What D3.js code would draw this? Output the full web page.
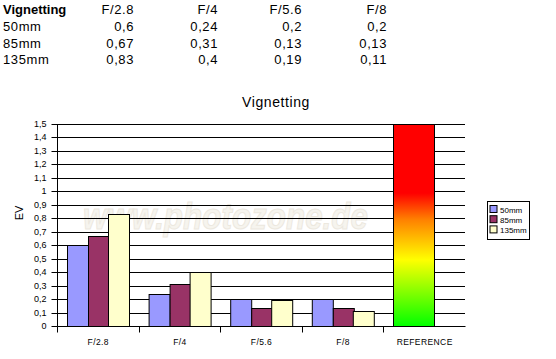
<!DOCTYPE html>
<html lang="en">
<head>
    <meta charset="UTF-8">
    <title>Vignetting</title>
    <script src="https://d3js.org/d3.v7.min.js"></script>
    <style>
        body{margin: 0; background: #fff;}
        text{font-family: 'Liberation Sans', Arial, sans-serif; fill: #000;}
    </style>
</head>
<body>
    <div id="plot"></div>

    <script>
        function translate(x, y){
            return 'translate(' + x + ', ' + y + ')';
        }

        let categories = ['F/2.8', 'F/4', 'F/5.6', 'F/8'];
        let series = ['50mm', '85mm', '135mm'];
        let values50 = [0.6, 0.24, 0.2, 0.2];
        let values85 = [0.67, 0.31, 0.13, 0.13];
        let values135 = [0.83, 0.4, 0.19, 0.11];
        let referenceLabel = 'REFERENCE';
        let referenceValue = 1.5;
        let yTicks = d3.range(0, 16).map(d => d / 10);

        let rows = [values50, values85, values135];
        let fmt = v => String(v).replace('.', ',');

        let svgWidth = 556;
        let svgHeight = 359;

        let svg = d3.select('#plot')
                    .append('svg')
                        .attr('width', svgWidth)
                        .attr('height', svgHeight);

        // table on top
        let table = svg.append('g').style('font-size', '13px').style('letter-spacing', '0.6px');
        let colX = [134, 218, 302, 387];
        table.append('text').attr('x', 3).attr('y', 14)
            .style('font-weight', 'bold').style('letter-spacing', '0px').text('Vignetting');
        categories.forEach(function(c, i){
            table.append('text').attr('x', colX[i]).attr('y', 14)
                .attr('text-anchor', 'end').text(c);
        });
        series.forEach(function(s, r){
            let yy = 31 + r * 16.6;
            table.append('text').attr('x', 3).attr('y', yy).text(s);
            rows[r].forEach(function(v, i){
                table.append('text').attr('x', colX[i]).attr('y', yy)
                    .attr('text-anchor', 'end').text(fmt(v));
            });
        });

        // chart
        let plotLeft = 57, plotRight = 465, plotTop = 123.5, plotBottom = 326;

        let x = d3.scaleBand()
                    .domain(categories.concat([referenceLabel]))
                    .range([plotLeft, plotRight]);
        let xs = d3.scaleBand()
                    .domain(series)
                    .range([10, 71.5]);
        let y = d3.scaleLinear()
                    .domain([0, 1.5])
                    .range([plotBottom, plotTop]);

        let color = d3.scaleOrdinal()
                        .domain(series)
                        .range(['#9999ff', '#993366', '#ffffcc']);

        svg.append('text')
            .attr('x', 276).attr('y', 107)
            .attr('text-anchor', 'middle')
            .style('font-size', '14px').style('letter-spacing', '0.6px')
            .text('Vignetting');

        // watermark
        svg.append('text')
            .attr('x', 83).attr('y', 229)
            .attr('textLength', 285).attr('lengthAdjust', 'spacingAndGlyphs')
            .style('font-size', '36px').style('font-weight', 'bold').style('font-style', 'italic')
            .style('fill', '#f6f4ee').style('stroke', '#ece8df').style('stroke-width', 1)
            .text('www.photozone.de');

        // gridlines
        svg.append('g')
            .selectAll('line')
            .data(yTicks.filter(d => d > 0))
            .join('line')
                .attr('x1', plotLeft).attr('x2', plotRight)
                .attr('y1', d => Math.round(y(d)) + 0.5).attr('y2', d => Math.round(y(d)) + 0.5)
                .attr('stroke', '#000');

        // gradient for reference bar
        let grad = svg.append('defs').append('linearGradient')
                        .attr('id', 'refGrad')
                        .attr('x1', 0).attr('y1', 0).attr('x2', 0).attr('y2', 1);
        [[0, '#ff0000'], [0.34, '#ff0000'], [0.47, '#ff8000'], [0.67, '#ffff00'], [1, '#00ff00']]
            .forEach(function(s){
                grad.append('stop').attr('offset', s[0]).attr('stop-color', s[1]);
            });

        let groups = svg.append('g')
            .selectAll('g')
            .data(categories)
            .join('g')
                .attr('transform', d => translate(x(d), 0));

        groups.selectAll('rect')
            .data((c, i) => series.map((s, r) => ({s: s, v: rows[r][i]})))
            .join('rect')
                .attr('x', d => Math.round(xs(d.s)) + 0.5)
                .attr('y', d => Math.round(y(d.v)) + 0.5)
                .attr('width', Math.round(xs.bandwidth()))
                .attr('height', d => Math.round(y(0)) - Math.round(y(d.v)))
                .attr('fill', d => color(d.s))
                .attr('stroke', '#000');

        svg.append('rect')
            .attr('x', Math.round(x(referenceLabel) + 10) + 0.5)
            .attr('y', Math.round(y(referenceValue)) + 0.5)
            .attr('width', 41)
            .attr('height', Math.round(y(0)) - Math.round(y(referenceValue)))
            .attr('fill', 'url(#refGrad)')
            .attr('stroke', '#000');

        // axes
        let yAxis = d3.axisLeft(y)
                        .tickValues(yTicks)
                        .tickSize(6)
                        .tickFormat(d => fmt(+d.toFixed(1)));
        let ya = svg.append('g')
            .attr('transform', translate(plotLeft + 0.5, 0.5))
            .call(yAxis);
        ya.select('.domain').attr('d', 'M0,' + Math.round(plotTop) + 'V' + Math.round(plotBottom));
        ya.selectAll('.tick').attr('transform', d => translate(0, Math.round(y(d))));
        ya.selectAll('.tick line').attr('stroke', '#000');
        ya.selectAll('.tick text').attr('x', -11).style('font-size', '9px').attr('fill', '#000');

        let xa = svg.append('g').attr('transform', translate(0.5, Math.round(plotBottom) + 0.5));
        xa.append('line').attr('x1', plotLeft).attr('x2', plotRight).attr('stroke', '#000');
        xa.selectAll('line.tk')
            .data(x.domain())
            .join('line').attr('class', 'tk')
                .attr('x1', d => Math.round(x(d))).attr('x2', d => Math.round(x(d)))
                .attr('y1', 0).attr('y2', 6)
                .attr('stroke', '#000');
        xa.selectAll('text')
            .data(x.domain())
            .join('text')
                .attr('x', d => x(d) + x.bandwidth() / 2)
                .attr('y', 18)
                .attr('text-anchor', 'middle')
                .style('font-size', '8.5px')
                .style('letter-spacing', '0.4px')
                .text(d => d);

        svg.append('text')
            .attr('transform', translate(23, 213) + ' rotate(-90)')
            .attr('text-anchor', 'middle')
            .style('font-size', '11px')
            .text('EV');

        // legend
        let legend = svg.append('g').attr('transform', translate(487.5, 201.5));
        legend.append('rect').attr('width', 42).attr('height', 38)
            .attr('fill', '#fff').attr('stroke', '#000');
        series.forEach(function(s, i){
            let row = legend.append('g').attr('transform', translate(2.5, 4 + i * 10.2));
            row.append('rect').attr('width', 7).attr('height', 7)
                .attr('fill', color(s)).attr('stroke', '#000');
            row.append('text').attr('x', 10).attr('y', 7)
                .style('font-size', '8px').text(s);
        });
    </script>
</body>
</html>
